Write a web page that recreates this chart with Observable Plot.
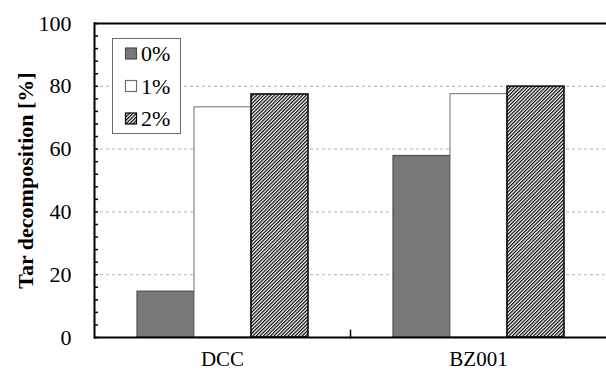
<!DOCTYPE html>
<html>
<head>
<meta charset="utf-8">
<script src="https://cdn.jsdelivr.net/npm/d3@7"></script>
<script src="https://cdn.jsdelivr.net/npm/@observablehq/plot@0.6"></script>
<style>
  html, body { margin: 0; padding: 0; background: white; }
  #wrap { position: relative; width: 606px; height: 370px; font-family: 'Liberation Serif'; }
  #legend { position: absolute; left: 112px; top: 38px; }
</style>
</head>
<body>
<div id="wrap"><div id="legend"></div></div>
<script>
const categories = ["DCC", "BZ001"];
const series = ["0%", "1%", "2%"];
const values0 = [14.6, 57.8];
const values1 = [73.3, 77.5];
const values2 = [77.4, 79.9];
const yLabelTicks = [0, 20, 40, 60, 80, 100];
const gridTicks = [20, 40, 60, 80];
const minorTicks = d3.range(0, 101, 4);
const yTitle = "Tar decomposition [%]";

const seriesValues = [values0, values1, values2];
const data = [];
series.forEach((s, i) => categories.forEach((c, j) => data.push({cat: c, s, v: seriesValues[i][j]})));

const styles = {
  "0%": {fill: "#787878", stroke: "#4d4d4d", strokeWidth: 1.2},
  "1%": {fill: "white", stroke: "#6e6e6e", strokeWidth: 1},
  "2%": {fill: "url(#hatch)", stroke: "black", strokeWidth: 1.5}
};

const font = "'Liberation Serif'";

const chart = Plot.plot({
  width: 606,
  height: 370,
  marginTop: 23,
  marginBottom: 33,
  marginLeft: 93,
  marginRight: 0,
  style: {fontFamily: font, fontSize: "22px", color: "black", background: "transparent"},
  fx: {domain: categories, padding: 0, label: null},
  x: {domain: series, paddingInner: 0, paddingOuter: 0.73, axis: null},
  y: {domain: [0, 100], axis: null},
  marks: [
    Plot.ruleY(gridTicks, {stroke: "#b0b0b0", strokeWidth: 1, strokeDasharray: "3,3"}),
    ...series.map(s => Plot.barY(data.filter(d => d.s === s), {fx: "cat", x: "s", y: "v", ...styles[s]})),
    Plot.ruleY([0], {stroke: "black", strokeWidth: 2}),
    Plot.ruleY([100], {stroke: "black", strokeWidth: 2}),
    Plot.frame({anchor: "left", facetAnchor: "left", stroke: "black", strokeWidth: 2}),
    Plot.frame({anchor: "left", facetAnchor: "right", insetTop: 307, stroke: "black", strokeWidth: 1.5}),
    Plot.axisY({anchor: "left", ticks: minorTicks, tickSize: 4, dx: 4, text: null, label: null, strokeWidth: 1.5}),
    Plot.axisY({anchor: "left", ticks: yLabelTicks, tickSize: 0, tickPadding: 23, label: null, fontSize: 22}),
    Plot.axisY({anchor: "left", ticks: [], label: yTitle, labelAnchor: "center", labelArrow: "none", labelOffset: 77, fontWeight: "bold", fontSize: 22}),
    Plot.axisFx({anchor: "bottom", tickSize: 0, tickPadding: 14, label: null, fontSize: 21})
  ]
});

const svg = d3.select(chart);
svg.attr("font-family", "Liberation Serif").style("font-family", font);
svg.selectAll("g[aria-label], text, tspan").style("font-family", font).attr("font-family", "Liberation Serif");

const defs = svg.insert("defs", ":first-child");
const pat = defs.append("pattern")
  .attr("id", "hatch")
  .attr("patternUnits", "userSpaceOnUse")
  .attr("width", 2.5).attr("height", 2.5)
  .attr("patternTransform", "rotate(45)");
pat.append("rect").attr("width", 2.5).attr("height", 2.5).attr("fill", "white");
pat.append("line").attr("x1", 0.6).attr("y1", 0).attr("x2", 0.6).attr("y2", 2.5)
  .attr("stroke", "black").attr("stroke-width", 1.2);

document.getElementById("wrap").prepend(chart);

// legend
const lg = d3.select("#legend").append("svg")
  .attr("width", 69).attr("height", 96);
lg.append("rect").attr("x", 0.5).attr("y", 0.5).attr("width", 68).attr("height", 95)
  .attr("fill", "white").attr("stroke", "#6a6a6a").attr("stroke-width", 1);
series.forEach((s, i) => {
  const cy = 15.5 + i * 32.5;
  lg.append("rect").attr("x", 13.5).attr("y", cy - 5.5).attr("width", 11).attr("height", 11)
    .attr("fill", styles[s].fill).attr("stroke", styles[s].stroke).attr("stroke-width", 1.2);
  lg.append("text").attr("x", 29).attr("y", cy).attr("dy", "0.35em")
    .style("font-family", font).style("font-size", "22px").text(s);
});
</script>
</body>
</html>
